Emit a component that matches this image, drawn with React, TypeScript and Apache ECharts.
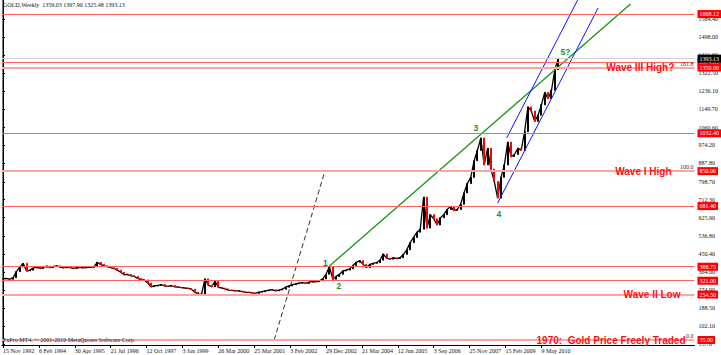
import { useEffect, useRef } from "react";
import * as echarts from "echarts";

// Weekly bars, sampled every BAR_STEP bars (bar index 0 = 15 Nov 1992)
const BAR_STEP = 6;
const closes = [
  330, 332, 328, 336, 365, 388, 405, 368, 372, 382,
  388, 380, 386, 392, 384, 390, 393, 387, 383, 388,
  384, 380, 386, 385, 383, 386, 386, 388, 410, 400,
  393, 389, 384, 380, 372, 362, 350, 352, 345, 342,
  332, 326, 325, 310, 292, 296, 298, 303, 296, 294,
  298, 292, 290, 288, 286, 284, 280, 266, 258, 255,
  330, 300, 292, 318, 290, 286, 282, 276, 275, 272,
  272, 268, 266, 265, 262, 260, 266, 268, 272, 276,
  278, 272, 276, 280, 290, 296, 302, 306, 310, 312,
  308, 314, 318, 316, 320, 330, 352, 390, 328, 342,
  352, 368, 372, 378, 395, 410, 418, 400, 385, 400,
  405, 408, 420, 450, 430, 425, 432, 428, 432, 448,
  470, 505, 530, 555, 570, 725, 575, 640, 620, 590,
  625, 640, 665, 680, 660, 665, 690, 745, 790, 820,
  900, 950, 1010, 880, 960, 860, 800, 720, 820, 880,
  990, 920, 930, 960, 950, 1040, 1160, 1140, 1090, 1120,
  1170, 1230, 1200, 1240, 1340, 1393,
];

const xTickLabels = [
  "15 Nov 1992", "6 Feb 1994", "30 Apr 1995", "21 Jul 1996", "12 Oct 1997",
  "3 Jan 1999", "26 Mar 2000", "25 Mar 2001", "3 Feb 2002", "29 Dec 2002",
  "21 Mar 2004", "12 Jun 2005", "3 Sep 2006", "25 Nov 2007", "15 Feb 2009", "9 May 2010",
];
const X_LABEL_EVERY = 64; // bars between date labels

const yTickValues = [
  15.7, 102.1, 188.5, 274.9, 364.0, 450.4, 536.8, 625.9, 712.3, 798.7,
  887.8, 974.2, 1060.6, 1149.7, 1236.1, 1322.5, 1411.6, 1498.0, 1584.4,
];

const headerOHLC = [1359.03, 1397.9, 1325.48, 1393.13];

const thinRedLevels = [1608.12, 1374.65, 1032.4, 681.4, 388.75, 321.0];
const thickPinkLevels = [1350.0, 850.0, 254.5, 35.0];
const fibValues = [35.0, 850.0, 1350.0];
const fibTexts = ["0.0", "100.0", "161.8"];

// trend lines: [bar index, price]
const greenLine = [[582, 392], [1119, 1657]];
const blueUpper = [[898, 1010], [1025, 1678]];
const blueLower = [[882, 696], [1061, 1637]];
const dashedLine = [[483.5, 35], [574, 850]];

const waveTexts = ["1", "2", "3", "4", "5?"];
const waveBars = [575, 599, 843, 884, 1003];
const wavePrices = [408, 296, 1058, 643, 1425];

const noteTexts = ["Wave III High?", "Wave I High", "Wave II Low", "1970:  Gold Price Freely Traded"];
const noteBars = [1197, 1192, 1208, 1217];
const notePrices = [1350.0, 850.0, 254.5, 35.0];

const X_MIN = -2;
const X_MAX = 1233;
const AXIS_FONT = "Liberation Serif";
const SMALL = 6;

export default function App() {
  const ref = useRef<HTMLDivElement>(null);

  useEffect(() => {
    const chart = echarts.init(ref.current!, null, { renderer: "svg" });

    const candles = closes.map((c, i) => {
      const o = i === 0 ? c : closes[i - 1];
      return [i * BAR_STEP, o, c, Math.min(o, c), Math.max(o, c)];
    });
    const closeLine = closes.map((c, i) => [i * BAR_STEP, c]);

    const redBox = (v: number, bg = "#ff0000") => ({
      show: true,
      position: "end",
      distance: 3,
      formatter: v.toFixed(2),
      color: "#fff",
      backgroundColor: bg,
      fontFamily: AXIS_FONT,
      fontSize: SMALL,
      padding: [1, 2, 0, 2],
      lineHeight: 7,
    });

    const xTickValues = xTickLabels.map((_, i) => i * X_LABEL_EVERY);

    const option: any = {
      animation: false,
      backgroundColor: "#ffffff",
      grid: { left: 1, right: 23, top: 0, bottom: 10 },
      xAxis: {
        type: "value",
        min: X_MIN,
        max: X_MAX,
        splitLine: { show: false },
        axisLine: { show: true, onZero: false, lineStyle: { color: "#000", width: 1 } },
        axisTick: { show: true, length: 3, customValues: xTickValues, lineStyle: { color: "#000" } },
        axisLabel: {
          customValues: xTickValues,
          showMinLabel: true,
          showMaxLabel: true,
          formatter: (v: number) => xTickLabels[Math.round(v / X_LABEL_EVERY)] ?? "",
          align: "left",
          margin: 3,
          fontFamily: AXIS_FONT,
          fontSize: SMALL,
          color: "#111",
        },
      },
      yAxis: [
        {
          type: "value",
          position: "right",
          min: 10.87,
          max: 1676,
          splitLine: { show: false },
          axisLine: { show: true, lineStyle: { color: "#000", width: 1 } },
          axisTick: { show: true, length: 2, customValues: yTickValues, lineStyle: { color: "#000" } },
          axisLabel: {
            customValues: yTickValues,
            showMinLabel: true,
            showMaxLabel: true,
            formatter: (v: number) => v.toFixed(2),
            margin: 4,
            fontFamily: AXIS_FONT,
            fontSize: SMALL,
            color: "#111",
          },
        },
        {
          type: "value",
          position: "left",
          min: 10.87,
          max: 1676,
          splitLine: { show: false },
          axisLine: { show: true, lineStyle: { color: "#777", width: 1 } },
          axisTick: { show: false },
          axisLabel: { show: false },
        },
      ],
      series: [
        {
          type: "line",
          data: closeLine,
          symbol: "none",
          lineStyle: { color: "#000", width: 1.3 },
          z: 1,
          markLine: {
            silent: true,
            symbol: ["none", "none"],
            animation: false,
            data: [
              ...thinRedLevels.map((v) => ({
                yAxis: v,
                lineStyle: { color: "#ff6060", width: 1, type: "solid" },
                label: redBox(v),
              })),
              ...thickPinkLevels.map((v) => ({
                yAxis: v,
                lineStyle: { color: "#ffa4a4", width: 2, type: "solid" },
                label: redBox(v),
              })),
              {
                yAxis: headerOHLC[3],
                lineStyle: { color: "#cfcfcf", width: 1, type: "solid" },
                label: redBox(headerOHLC[3], "#000000"),
              },
            ],
          },
        },
        {
          type: "candlestick",
          data: candles,
          encode: { x: 0, y: [1, 2, 3, 4] },
          barWidth: 1.5,
          itemStyle: {
            color: "#000000",
            color0: "#ff0000",
            borderColor: "#000000",
            borderColor0: "#ff0000",
            borderWidth: 1,
          },
          z: 2,
        },
        {
          type: "line",
          data: greenLine,
          symbol: "none",
          lineStyle: { color: "#119911", width: 1.3 },
          z: 4,
        },
        {
          type: "line",
          data: blueUpper,
          symbol: "none",
          lineStyle: { color: "#1010ff", width: 1 },
          z: 4,
        },
        {
          type: "line",
          data: blueLower,
          symbol: "none",
          lineStyle: { color: "#1010ff", width: 1 },
          z: 4,
        },
        {
          type: "line",
          data: dashedLine,
          symbol: "none",
          lineStyle: { color: "#333", width: 1, type: [5, 3] },
          z: 4,
        },
      ],
    };

    chart.setOption(option);

    const px = (b: number, v: number) =>
      chart.convertToPixel({ xAxisIndex: 0, yAxisIndex: 0 }, [b, v]) as number[];

    const graphics: any[] = [
      {
        type: "text",
        left: 3,
        top: 2,
        z: 10,
        style: {
          text: "GOLD,Weekly  " + headerOHLC.map((v) => v.toFixed(2)).join(" "),
          fontFamily: AXIS_FONT,
          fontSize: SMALL,
          fill: "#111",
        },
      },
      {
        type: "text",
        left: 3,
        top: 337,
        z: 10,
        style: {
          text: "FxPro MT4, © 2001-2010 MetaQuotes Software Corp.",
          fontFamily: AXIS_FONT,
          fontSize: SMALL,
          fill: "#222",
        },
      },
    ];

    fibValues.forEach((v, i) => {
      const [x, y] = px(X_MAX, v);
      graphics.push({
        type: "text",
        x: x - 1,
        y: y - 1,
        z: 10,
        style: {
          text: fibTexts[i],
          fontFamily: AXIS_FONT,
          fontSize: SMALL,
          fill: "#333",
          align: "right",
          verticalAlign: "bottom",
        },
      });
    });

    noteTexts.forEach((t, i) => {
      const [x, y] = px(noteBars[i], notePrices[i]);
      graphics.push({
        type: "text",
        x,
        y,
        z: 10,
        style: {
          text: t,
          fontFamily: "Liberation Sans",
          fontWeight: "bold",
          fontSize: 10,
          fill: "#ff1010",
          align: "right",
          verticalAlign: "middle",
        },
      });
    });

    waveTexts.forEach((t, i) => {
      const [x, y] = px(waveBars[i], wavePrices[i]);
      graphics.push({
        type: "text",
        x,
        y,
        z: 10,
        style: {
          text: t,
          fontFamily: "Liberation Sans",
          fontWeight: "bold",
          fontSize: 8.5,
          fill: "#129912",
          align: "center",
          verticalAlign: "middle",
        },
      });
    });

    chart.setOption({ graphic: graphics });

    return () => chart.dispose();
  }, []);

  return (
    <div
      ref={ref}
      style={{ position: "fixed", left: 0, top: 0, width: 721, height: 355, background: "#fff" }}
    />
  );
}
